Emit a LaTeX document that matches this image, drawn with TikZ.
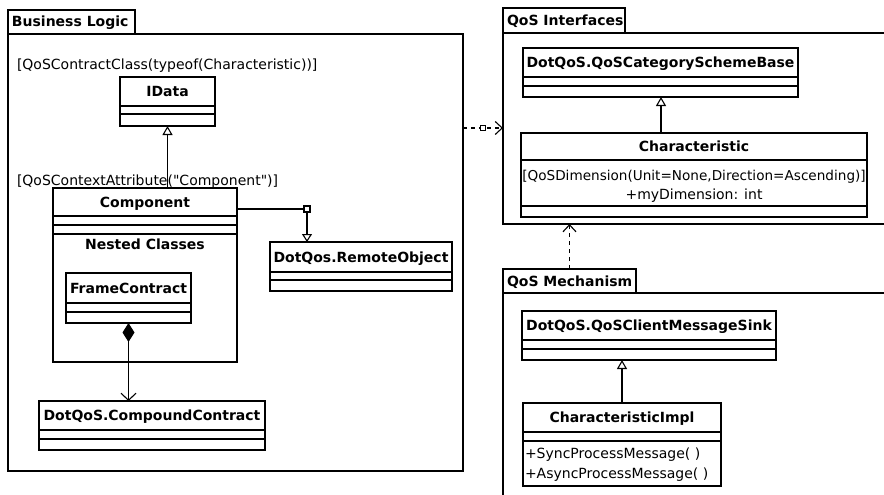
\documentclass[tikz,border=0pt]{standalone}
\usepackage{fontspec}
\setmainfont{DejaVu Sans}[Ligatures=TeXOff]
\usetikzlibrary{arrows.meta}

% class box: #1 name, #2 x1, #3 y1, #4 x2, #5 y2, #6 #7 compartment lines, #8 title
\newcommand{\umlclass}[8]{%
  \node[frame, minimum width={#4-#2}, minimum height={#5-#3}, anchor=north west] (#1) at (#2,#3) {};
  \draw (#2,#6) -- (#4,#6) (#2,#7) -- (#4,#7);
  \node[bold] (#1-title) at ({(#2+#4)/2},{(#3+#6)/2}) {#8};
}
% package: #1 name, #2 x1, #3 tab top, #4 tab right, #5 tab bottom, #6 body right, #7 body bottom, #8 label
\newcommand{\umlpackage}[8]{%
  \node[frame, minimum width={#4-#2}, minimum height={#5-#3}, anchor=north west] (#1-tab) at (#2,#3) {};
  \node[frame, minimum width={#6-#2}, minimum height={#7-#5}, anchor=north west] (#1) at (#2,#5) {};
  \node[bold, anchor=west] (#1-label) at ({#2+4},{(#3+#5)/2}) {#8};
}

\begin{document}
\begin{tikzpicture}[x=1pt,y=-1pt,
  line width=1.1pt,
  every node/.style={font=\fontsize{14}{16}\selectfont},
  frame/.style={draw, rectangle, inner sep=0pt, outer sep=0pt},
  txt/.style={inner sep=0pt, outer sep=0pt, text height=10pt, text depth=0pt},
  bold/.style={txt, font=\fontsize{14}{16}\selectfont\bfseries},
  gen/.style={-{Triangle[open,length=9pt,width=10pt]}},
  assoc/.style={-{Triangle[open,length=8pt,width=10pt]}},
  dep/.style={dash pattern=on 4pt off 4pt, -{Straight Barb[length=7pt,width=13pt]}},
  compo/.style={{Diamond[length=19pt,width=12pt]}-{Straight Barb[length=7pt,width=15pt]}},
  port/.style={draw, fill=white, rectangle, minimum size=6pt, inner sep=0pt, outer sep=0pt}
]
\useasboundingbox (0,0) rectangle (884,495);
\clip (0,0) rectangle (884,495);

% packages
\umlpackage{bl}{8}{10}{135}{34}{463}{471}{Business Logic}
\umlpackage{qi}{503}{8}{625}{33}{900}{224}{QoS Interfaces}
\umlpackage{qm}{503}{269}{636}{293}{900}{520}{QoS Mechanism}

% Business Logic
\node[txt, anchor=west] (attrdata) at (17,65) {[QoSContractClass(typeof(Characteristic))]};
\umlclass{idata}{120}{77}{215}{126}{106}{114}{IData}

\node[txt, anchor=west] (attrcomp) at (17,180) {[QoSContextAttribute("Component")]};
\umlclass{component}{53}{188}{237}{362}{216}{225}{Component}
\draw (53,234) -- (237,234);
\node[bold] (nested) at (145,244) {Nested Classes};

\umlclass{frame}{66}{273}{191}{323}{303}{312}{FrameContract}
\umlclass{compound}{39}{401}{265}{450}{430}{439}{DotQoS.CompoundContract}
\umlclass{remote}{270}{242}{452}{291}{272}{280}{DotQos.RemoteObject}

% QoS Interfaces
\umlclass{scheme}{523}{48}{798}{97}{77}{86}{DotQoS.QoSCategorySchemeBase}
\umlclass{charac}{521}{133}{867}{217}{160}{206}{Characteristic}
\node[txt, font=\fontsize{13.6}{16}\selectfont] (dimattr) at (694,175) {[QoSDimension(Unit=None,Direction=Ascending)]};
\node[txt] (dimfield) at (694,194) {+myDimension: int};

% QoS Mechanism
\umlclass{sink}{522}{311}{776}{360}{340}{349}{DotQoS.QoSClientMessageSink}
\umlclass{impl}{523}{403}{721}{486}{432}{441}{CharacteristicImpl}
\node[txt, anchor=west] (opsync) at (525,453) {+SyncProcessMessage( )};
\node[txt, anchor=west] (opasync) at (525,473) {+AsyncProcessMessage( )};

% relations
\draw[gen] (idata.south |- component.north) -- (idata.south);
\draw[gen] (charac.north -| 661,0) -- (scheme.south -| 661,0);
\draw[gen] (impl.north -| 622,0) -- (sink.south -| 622,0);
\draw[compo] (frame.south) -- (frame.south |- compound.north);

\coordinate (bend) at (307,209);
\draw[assoc] (component.east |- bend) -- (bend) -- (bend |- remote.north);
\node[port] (bendport) at (bend) {};

\coordinate (depy) at (0,128);
\draw[dep] (bl.east |- depy) -- (qi.west |- depy);
\node[port, minimum width=5pt, minimum height=5pt] (depport) at (483,128) {};

\draw[dep] (qm-tab.north) -- (qm-tab.north |- qi.south);
\end{tikzpicture}
\end{document}
